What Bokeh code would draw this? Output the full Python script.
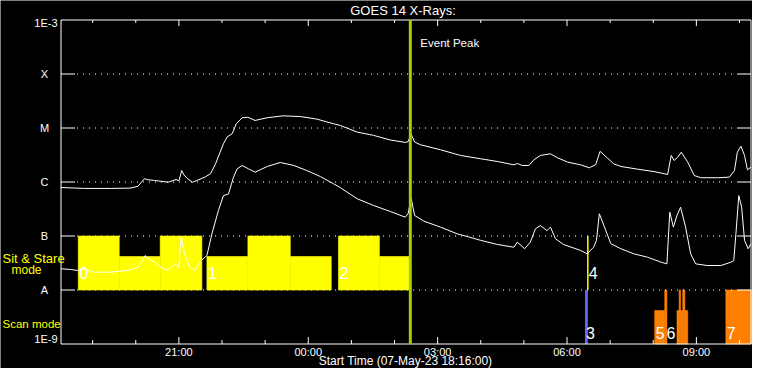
import math
from datetime import datetime
from bokeh.plotting import figure
from bokeh.models import Label, Range1d
from bokeh.embed import file_html
from bokeh.resources import INLINE

# ---------------- data ----------------
START_TIME = "18:16"
END_TIME = "10:16"

# GOES 14 long channel (1-8 A), W/m^2
long_time = ["18:16", "18:49", "19:26", "19:52", "20:03", "20:12", "20:17", "20:26", "20:45", "20:56",
             "21:00", "21:04", "21:07", "21:12", "21:19", "21:31", "21:37", "21:44", "21:51", "22:02",
             "22:07", "22:14", "22:20", "22:28", "22:36", "22:46", "23:03", "23:25", "23:49", "00:12",
             "00:35", "00:45", "01:08", "01:31", "01:54", "02:15", "02:19", "02:23", "02:28", "02:36",
             "03:04", "03:32", "04:00", "04:23", "04:46", "04:51", "04:58", "05:07", "05:14", "05:23",
             "05:37", "05:47", "06:01", "06:19", "06:31", "06:40", "06:46", "06:56", "07:05", "07:15",
             "07:38", "08:01", "08:20", "08:25", "08:29", "08:34", "08:39", "08:48", "08:57", "09:06",
             "09:30", "09:46", "09:53", "09:57", "10:02", "10:07", "10:11", "10:16"]
long_flux = [7.9e-7, 7.6e-7, 7.6e-7, 7.7e-7, 8.3e-7, 1.15e-6, 1.1e-6, 1.07e-6, 9.9e-7, 1.11e-6,
             1.05e-6, 1.63e-6, 1.35e-6, 1.15e-6, 9.9e-7, 1.15e-6, 1.25e-6, 1.42e-6, 2.17e-6, 5.1e-6,
             6.8e-6, 7.8e-6, 1.2e-5, 1.55e-5, 1.58e-5, 1.38e-5, 1.55e-5, 1.68e-5, 1.63e-5, 1.46e-5,
             1.2e-5, 1.11e-5, 8.4e-6, 7.3e-6, 6.0e-6, 5.4e-6, 5.6e-6, 7.8e-6, 5.5e-6, 4.9e-6,
             3.95e-6, 3.1e-6, 2.69e-6, 2.4e-6, 2.08e-6, 2.2e-6, 2.02e-6, 2.02e-6, 2.58e-6, 3.1e-6,
             3.33e-6, 2.8e-6, 2.33e-6, 2.08e-6, 1.83e-6, 2.1e-6, 3.7e-6, 2.8e-6, 2.17e-6, 1.94e-6,
             1.73e-6, 1.56e-6, 1.38e-6, 3.1e-6, 2.5e-6, 2.88e-6, 3.56e-6, 2.33e-6, 1.32e-6, 1.2e-6,
             1.2e-6, 1.23e-6, 1.63e-6, 3.56e-6, 4.6e-6, 3.1e-6, 1.68e-6, 1.88e-6]

# GOES 14 short channel (0.5-4 A), W/m^2
short_time = ["18:16", "18:29", "18:39", "18:49", "19:02", "19:26", "19:49", "20:03", "20:13", "20:20",
              "20:26", "20:35", "20:45", "20:54", "21:00", "21:03", "21:08", "21:15", "21:22", "21:31",
              "21:39", "21:46", "21:55", "22:02", "22:09", "22:16", "22:21", "22:28", "22:37", "22:46",
              "23:03", "23:21", "23:40", "23:58", "00:17", "00:35", "00:45", "01:08", "01:31", "01:54",
              "02:15", "02:19", "02:23", "02:28", "02:41", "03:04", "03:27", "03:41", "04:00", "04:23",
              "04:46", "04:51", "05:01", "05:09", "05:16", "05:23", "05:32", "05:37", "05:44", "05:55",
              "06:19", "06:28", "06:37", "06:41", "06:45", "06:54", "07:01", "07:15", "07:33", "07:52",
              "08:11", "08:19", "08:23", "08:28", "08:33", "08:38", "08:45", "08:52", "08:59", "09:15",
              "09:34", "09:48", "09:52", "09:55", "09:59", "10:03", "10:07", "10:12", "10:16"]
short_flux = [2.47e-8, 2.4e-8, 2.3e-8, 2.45e-8, 2.14e-8, 2.14e-8, 2.3e-8, 2.64e-8, 4.35e-8, 3.6e-8,
              3.27e-8, 2.64e-8, 2.3e-8, 3.05e-8, 2.64e-8, 9.5e-8, 4.68e-8, 2.64e-8, 2.3e-8, 3.5e-8,
              4.35e-8, 1.1e-7, 2.97e-7, 5.6e-7, 6.0e-7, 1.23e-6, 1.75e-6, 2.02e-6, 1.75e-6, 1.52e-6,
              1.94e-6, 2.3e-6, 2.02e-6, 1.63e-6, 1.26e-6, 9.3e-7, 7.8e-7, 4.9e-7, 3.67e-7, 2.85e-7,
              2.23e-7, 2.6e-7, 5.1e-7, 2.4e-7, 1.88e-7, 1.46e-7, 1.1e-7, 9.8e-8, 8.3e-8, 6.97e-8,
              6.2e-8, 7.7e-8, 5.8e-8, 7.7e-8, 1.36e-7, 1.56e-7, 1.26e-7, 1.46e-7, 8.9e-8, 6.97e-8,
              5.4e-8, 4.68e-8, 6.2e-8, 8.3e-8, 2.58e-7, 1.26e-7, 7.2e-8, 5.8e-8, 4.68e-8, 4.05e-8,
              3.27e-8, 3.05e-8, 2.76e-7, 1.46e-7, 2.4e-7, 3.41e-7, 1.46e-7, 4.68e-8, 3.05e-8, 2.84e-8,
              2.84e-8, 3.27e-8, 3.5e-8, 1.1e-7, 5.6e-7, 3.41e-7, 8.3e-8, 5.8e-8, 7.2e-8]

# Sit & Stare observing blocks (full = whole band, else half band)
sit_start = ["18:40", "19:37", "20:34", "21:39", "22:36", "23:35", "00:42", "01:39"]
sit_end = ["19:37", "20:34", "21:32", "22:36", "23:35", "00:32", "01:39", "02:21"]
sit_full = [True, False, True, False, True, False, True, False]
sit_marker_time = ["06:29"]
sit_labels = ["0", "1", "2", "4"]
sit_label_time = ["18:40", "21:39", "00:42", "06:29"]

# Scan mode blocks
scan_blue_start = ["06:25"]
scan_blue_end = ["06:29"]
scan_start = ["08:02", "08:16", "08:33", "08:36", "08:38", "08:41", "08:44", "09:41"]
scan_end = ["08:16", "08:19", "08:36", "08:38", "08:41", "08:44", "08:48", "10:41"]
scan_full = [False, True, False, True, False, True, False, True]
scan_labels = ["3", "5", "6", "7"]
scan_label_time = ["06:25", "08:02", "08:17", "09:41"]

peak_time = "02:22"

major_ticks = ["21:00", "00:00", "03:00", "06:00", "09:00"]
minor_ticks = ["19:00", "20:00", "22:00", "23:00", "01:00", "02:00", "04:00", "05:00",
               "07:00", "08:00", "10:00"]

class_levels = [1e-8, 1e-7, 1e-6, 1e-5, 1e-4]
class_names = ["A", "B", "C", "M", "X"]
y_min, y_max = 1e-9, 1e-3
y_min_label, y_max_label = "1E-9", "1E-3"
HALF_DEC = 0.62  # half-height bar in decades


# ---------------- helpers ----------------
def to_dt(hhmm):
    h, m = map(int, hhmm.split(":"))
    return datetime(2023, 5, 7 if h >= 18 else 8, h, m)


def ms(hhmm):
    return (to_dt(hhmm) - datetime(1970, 1, 1)).total_seconds() * 1000.0


W, H = 752, 368
T0 = ms(START_TIME)
T1 = ms(END_TIME)
PX_L, PX_R = 60.5, 750.5          # pixel x of plot box left / right
PX_T, PX_B = 19.5, 343.5          # pixel y of y_max / y_min
MS_PER_PX = (T1 - T0) / (PX_R - PX_L)
DEC_PX = (PX_B - PX_T) / (math.log10(y_max) - math.log10(y_min))


def xt(px):
    return T0 + (px - PX_L) * MS_PER_PX


def yv(py):
    return 10 ** (math.log10(y_min) + (PX_B - py) / DEC_PX)


def ypx(v):
    return PX_B - (math.log10(v) - math.log10(y_min)) * DEC_PX


FONT = "Liberation Sans"
YELLOW, BLUE, ORANGE, GREEN = "#ffff00", "#6464ff", "#ff8000", "#a0d000"

p = figure(width=W, height=H, x_axis_type="datetime", y_axis_type="log",
           x_axis_location=None, y_axis_location=None,
           x_range=Range1d(xt(0), xt(W)), y_range=Range1d(yv(H), yv(0)),
           output_backend="svg", toolbar_location=None, title=None,
           background_fill_color="black", border_fill_color="black",
           outline_line_color=None, min_border=0)
p.xgrid.visible = False
p.ygrid.visible = False

# observing blocks
sit_top = [class_levels[1] if f else class_levels[0] * 10 ** HALF_DEC for f in sit_full]
p.quad(left=[to_dt(t) for t in sit_start], right=[to_dt(t) for t in sit_end],
       bottom=class_levels[0], top=sit_top, fill_color=YELLOW, line_color=YELLOW, line_width=0.6)
p.segment(x0=[to_dt(t) for t in sit_marker_time], x1=[to_dt(t) for t in sit_marker_time],
          y0=class_levels[0], y1=class_levels[1], line_color=YELLOW, line_width=1.5)
p.quad(left=[to_dt(t) for t in scan_blue_start], right=[to_dt(t) for t in scan_blue_end],
       bottom=y_min, top=class_levels[0], fill_color=BLUE, line_color=None)
scan_top = [class_levels[0] if f else y_min * 10 ** HALF_DEC for f in scan_full]
p.quad(left=[to_dt(t) for t in scan_start], right=[to_dt(t) for t in scan_end],
       bottom=y_min, top=scan_top, fill_color=ORANGE, line_color=ORANGE, line_width=0.6)

# curves
p.line([to_dt(t) for t in long_time], long_flux, line_color="white", line_width=1)
p.line([to_dt(t) for t in short_time], short_flux, line_color="white", line_width=1)

# class grid: solid ticks on both sides, dotted in between
n = len(class_levels)
p.segment(x0=[xt(PX_L)] * n, x1=[xt(PX_L + 14)] * n, y0=class_levels, y1=class_levels,
          line_color="white", line_width=1)
p.segment(x0=[xt(PX_R - 14)] * n, x1=[xt(PX_R)] * n, y0=class_levels, y1=class_levels,
          line_color="white", line_width=1)
p.segment(x0=[xt(PX_L + 16)] * n, x1=[xt(PX_R - 14)] * n, y0=class_levels, y1=class_levels,
          line_color="white", line_width=1, line_dash="1 5")

# time ticks (bottom and top)
mt = [to_dt(t) for t in major_ticks]
nt = [to_dt(t) for t in minor_ticks]
p.segment(x0=mt, x1=mt, y0=y_min, y1=yv(PX_B - 7), line_color="white", line_width=1)
p.segment(x0=nt, x1=nt, y0=y_min, y1=yv(PX_B - 4), line_color="white", line_width=1)
p.segment(x0=mt, x1=mt, y0=y_max, y1=yv(PX_T + 6), line_color="white", line_width=1)
p.segment(x0=nt, x1=nt, y0=y_max, y1=yv(PX_T + 3), line_color="white", line_width=1)

# plot box
p.segment(x0=[xt(PX_L), xt(PX_L), xt(PX_L), xt(PX_R)],
          x1=[xt(PX_R), xt(PX_R), xt(PX_L), xt(PX_R)],
          y0=[y_min, y_max, y_min, y_min], y1=[y_min, y_max, y_max, y_max],
          line_color="white", line_width=1)

# event peak
p.segment(x0=[to_dt(peak_time)], x1=[to_dt(peak_time)], y0=[y_min], y1=[y_max],
          line_color=GREEN, line_width=3)

BASE_FIX = 0.38  # observed downward offset of rendered labels, in em


def lab(x, py, text, size, color="white", align="left"):
    fs = float(size.replace("px", ""))
    p.add_layout(Label(x=x, y=yv(py - BASE_FIX * fs), text=text, text_color=color, text_font=FONT,
                       text_font_size=size, text_align=align, text_baseline="alphabetic"))


lab(ms(peak_time) + 10 * MS_PER_PX, 46.7, "Event Peak", "11.5px")
lab(xt(402.5), 14.5, "GOES 14 X-Rays:", "13px", align="center")
lab(xt(405), 365, "Start Time (07-May-23 18:16:00)", "12px", align="center")

for t in major_ticks:
    lab(ms(t), 356, t, "11px", align="center")

# y labels
lab(xt(57), 27, y_max_label, "11px", align="right")
lab(xt(57), 343, y_min_label, "11px", align="right")
for lev, nm in zip(class_levels, class_names):
    lab(xt(44), ypx(lev) + 3.9, nm, "11px", align="center")
lab(xt(2), 263.3, "Sit & Stare", "13px", color=YELLOW)
lab(xt(11), 274.5, "mode", "12px", color=YELLOW)
lab(xt(2), 328, "Scan mode", "11.5px", color=YELLOW)

for t, s in zip(sit_label_time, sit_labels):
    lab(ms(t) + 1 * MS_PER_PX, 278.3, s, "16px")
for t, s in zip(scan_label_time, scan_labels):
    lab(ms(t) + 1 * MS_PER_PX, 338.3, s, "16px")

open("out.html", "w").write(file_html(p, INLINE))
